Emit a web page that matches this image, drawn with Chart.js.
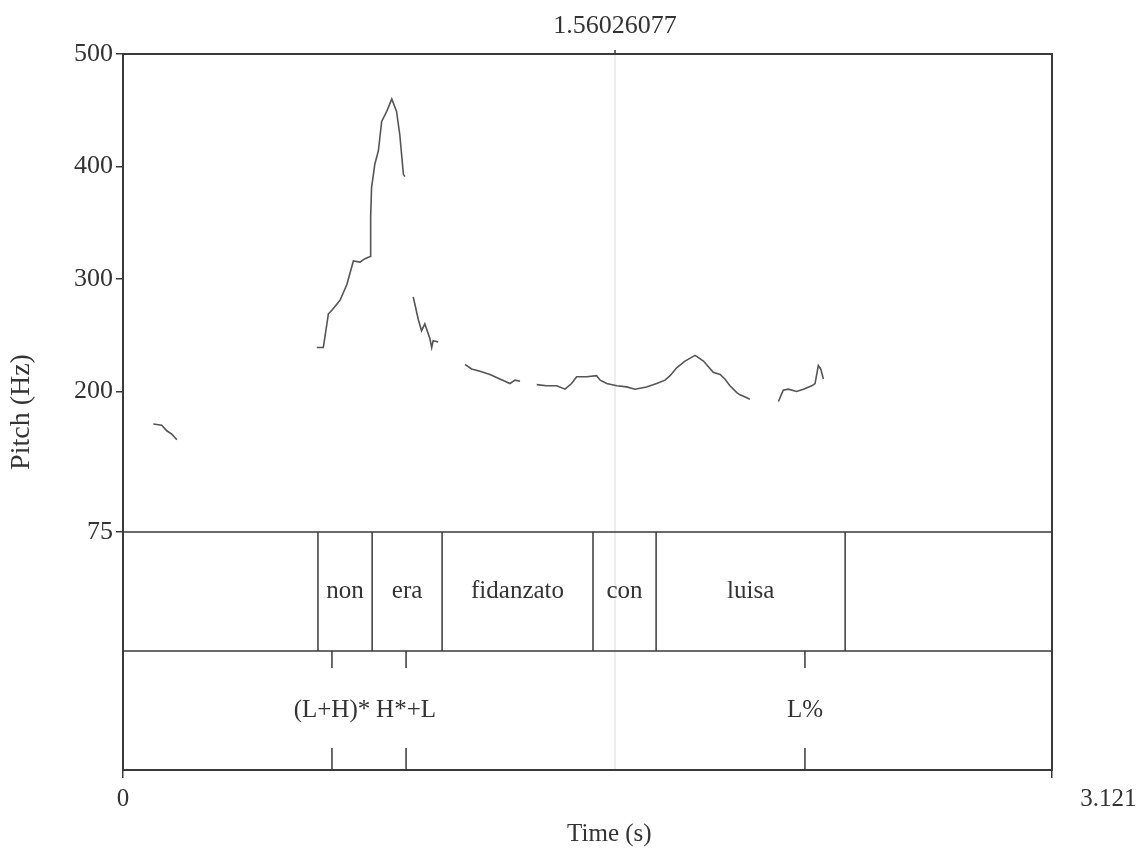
<!DOCTYPE html>
<html>
<head>
<meta charset="utf-8">
<script src="https://cdn.jsdelivr.net/npm/chart.js@4.4.0/dist/chart.umd.min.js"></script>
<style>
  html, body { margin: 0; padding: 0; background: #fff; }
  canvas { display: block; }
</style>
</head>
<body>
<canvas id="pitch" width="1138" height="849"></canvas>
<script>
// pitch contour (s, Hz) - null marks an unvoiced gap
var pitchTimes = [
  0.102, 0.130, 0.147, 0.164, 0.181, null,
  0.651, 0.673, 0.690, 0.701, 0.729, 0.752, 0.774, 0.796, 0.813, 0.830, 0.832, 0.835, 0.846, 0.858, 0.869, 0.886, 0.903, 0.919, 0.930, 0.942, 0.947, null,
  0.975, 0.992, 1.003, 1.014, 1.031, 1.037, 1.042, 1.059, null,
  1.149, 1.171, 1.199, 1.233, 1.266, 1.300, 1.317, 1.334, null,
  1.390, 1.423, 1.457, 1.485, 1.507, 1.524, 1.558, 1.591, 1.603, 1.625, 1.659, 1.692, 1.720, 1.759, 1.793, 1.821, 1.838, 1.860, 1.888, 1.922, 1.950, 1.983, 2.006, 2.022, 2.039, 2.062, 2.073, 2.090, 2.106, null,
  2.202, 2.218, 2.235, 2.263, 2.286, 2.314, 2.325, 2.336, 2.344, 2.353
];
var pitchHz = [
  171, 170, 165, 162, 157, null,
  239, 239, 269, 272, 281, 295, 316, 315, 318, 320, 355, 381, 402, 414, 440, 449, 460, 449, 428, 393, 391, null,
  284, 264, 254, 260, 247, 239, 245, 244, null,
  224, 220, 218, 215, 211, 207, 210, 209, null,
  206, 205, 205, 202, 207, 213, 213, 214, 210, 207, 205, 204, 202, 204, 207, 210, 214, 221, 227, 232, 227, 217, 215, 211, 205, 199, 197, 195, 193, null,
  191, 201, 202, 200, 202, 205, 207, 223, 220, 211
];

// word tier (interval boundaries in s)
var wordBounds = [0.655, 0.837, 1.072, 1.579, 1.791, 2.426];
var words = ['non', 'era', 'fidanzato', 'con', 'luisa'];

// tone tier (points in s)
var tonePoints = [0.702, 0.951, 2.291];
var toneLabels = ['(L+H)*', 'H*+L', 'L%'];

var yTicks = [75, 200, 300, 400, 500];
var xTicks = [0, 3.121];
var cursorTime = 1.653;
var cursorLabel = '1.56026077';

var PITCH_MIN = 75, PITCH_MAX = 500;
var tierShare = 238 / 716; // part of the box taken by the two tiers
var yMin = PITCH_MIN - (PITCH_MAX - PITCH_MIN) * tierShare / (1 - tierShare);

var ink = '#3a3a3a';
var serif = '"Liberation Serif", "Times New Roman", serif';

var points = pitchTimes.map(function (t, i) {
  return { x: t, y: pitchHz[i] };
});

var tiers = {
  id: 'tiers',
  beforeDatasetsDraw: function (chart) {
    var ctx = chart.ctx, a = chart.chartArea, x = chart.scales.x;
    var cx = x.getPixelForValue(cursorTime);
    ctx.save();
    ctx.strokeStyle = '#e2e2e2';
    ctx.lineWidth = 1.2;
    ctx.beginPath();
    ctx.moveTo(cx, a.top);
    ctx.lineTo(cx, a.bottom);
    ctx.stroke();
    ctx.restore();
  },
  afterDatasetsDraw: function (chart) {
    var ctx = chart.ctx, a = chart.chartArea;
    var x = chart.scales.x, y = chart.scales.y;
    var tierTop = y.getPixelForValue(PITCH_MIN);
    var tierMid = (tierTop + a.bottom) / 2;
    ctx.save();
    ctx.strokeStyle = ink;
    ctx.fillStyle = '#333';
    ctx.lineWidth = 1.5;

    // tier separators
    ctx.beginPath();
    ctx.moveTo(a.left, tierTop); ctx.lineTo(a.right, tierTop);
    ctx.moveTo(a.left, tierMid); ctx.lineTo(a.right, tierMid);
    // interval boundaries
    wordBounds.forEach(function (b) {
      var px = x.getPixelForValue(b);
      ctx.moveTo(px, tierTop); ctx.lineTo(px, tierMid);
    });
    // point marks
    tonePoints.forEach(function (p) {
      var px = x.getPixelForValue(p);
      ctx.moveTo(px, tierMid); ctx.lineTo(px, tierMid + 17);
      ctx.moveTo(px, a.bottom - 22); ctx.lineTo(px, a.bottom);
    });
    ctx.stroke();

    ctx.font = '25px ' + serif;
    ctx.textAlign = 'center';
    ctx.textBaseline = 'middle';
    words.forEach(function (w, i) {
      var px = (x.getPixelForValue(wordBounds[i]) + x.getPixelForValue(wordBounds[i + 1])) / 2;
      ctx.fillText(w, px, (tierTop + tierMid) / 2);
    });
    toneLabels.forEach(function (l, i) {
      ctx.fillText(l, x.getPixelForValue(tonePoints[i]), (tierMid + a.bottom) / 2);
    });

    // cursor value on top
    var cx = x.getPixelForValue(cursorTime);
    ctx.font = '26px ' + serif;
    ctx.textBaseline = 'alphabetic';
    ctx.fillText(cursorLabel, cx, 33);
    ctx.beginPath();
    ctx.moveTo(cx, a.top); ctx.lineTo(cx, a.top - 4);
    ctx.stroke();

    // frame
    ctx.lineWidth = 2;
    ctx.strokeRect(a.left, a.top, a.right - a.left, a.bottom - a.top);
    ctx.restore();
  }
};

new Chart(document.getElementById('pitch'), {
  type: 'line',
  data: {
    datasets: [{
      data: points,
      borderColor: '#555',
      borderWidth: 1.6,
      pointRadius: 0,
      spanGaps: false,
      tension: 0
    }]
  },
  options: {
    responsive: false,
    animation: false,
    layout: { padding: { top: 54, right: 86, left: 0, bottom: 0 } },
    plugins: { legend: { display: false }, tooltip: { enabled: false } },
    scales: {
      x: {
        type: 'linear',
        min: xTicks[0],
        max: xTicks[1],
        afterFit: function (s) {
          s.height = 79;
          s.paddingLeft = 0;
          s.paddingRight = 0;
        },
        afterBuildTicks: function (s) { s.ticks = xTicks.map(function (v) { return { value: v }; }); },
        grid: { drawOnChartArea: false, tickLength: 8, color: ink, lineWidth: 1.5 },
        border: { display: false },
        ticks: {
          color: '#333',
          font: { family: serif, size: 25 },
          padding: 6,
          maxRotation: 0,
          // Praat puts the end time right of the frame corner
          callback: function (v) { return v === xTicks[1] ? ' '.repeat(18) + v : String(v); }
        },
        title: {
          display: true,
          text: ' '.repeat(7) + 'Time (s)',
          color: '#333',
          font: { family: serif, size: 25 },
          padding: { top: 0, bottom: 0 }
        }
      },
      y: {
        min: yMin,
        max: PITCH_MAX,
        afterFit: function (s) { s.width = 123; },
        afterBuildTicks: function (s) { s.ticks = yTicks.map(function (v) { return { value: v }; }); },
        grid: { drawOnChartArea: false, tickLength: 7, color: ink, lineWidth: 1.5 },
        border: { display: false },
        ticks: {
          color: '#333',
          font: { family: serif, size: 26 },
          padding: 3
        },
        title: {
          display: true,
          text: 'Pitch (Hz)',
          color: '#333',
          font: { family: serif, size: 28 },
          padding: { top: 5, bottom: 0 }
        }
      }
    }
  },
  plugins: [tiers]
});
</script>
</body>
</html>
